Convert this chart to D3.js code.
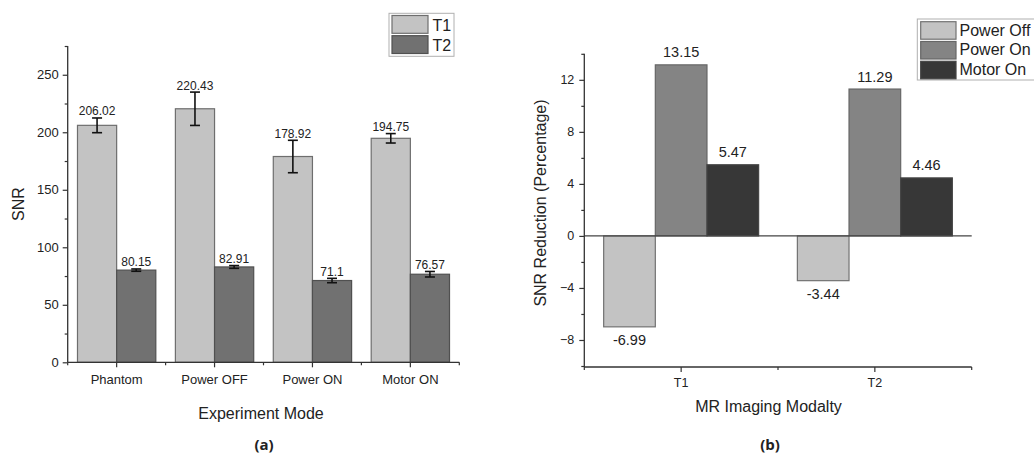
<!DOCTYPE html>
<html>
<head>
<meta charset="utf-8">
<script src="https://cdn.jsdelivr.net/npm/d3@7"></script>
<style>
  html, body { margin: 0; padding: 0; background: #fff; }
  svg { display: block; }
  text { font-family: "Liberation Sans", Arial, sans-serif; fill: #222; }
</style>
</head>
<body>
<svg id="chart" width="1034" height="454"></svg>
<script>
// ---------- Data: panel (a) ----------
const categoriesA = ["Phantom", "Power OFF", "Power ON", "Motor ON"];
const seriesA = ["T1", "T2"];
const t1Values = [206.02, 220.43, 178.92, 194.75];
const t2Values = [80.15, 82.91, 71.1, 76.57];
const t1Errors = [6.4, 14.5, 14.1, 4.1];
const t2Errors = [1.0, 1.2, 1.9, 2.4];
const yTicksA = [0, 50, 100, 150, 200, 250];
const yMinorTicksA = [25, 75, 125, 175, 225, 275];

// ---------- Data: panel (b) ----------
const categoriesB = ["T1", "T2"];
const seriesB = ["Power Off", "Power On", "Motor On"];
const powerOffValues = [-6.99, -3.44];
const powerOnValues = [13.15, 11.29];
const motorOnValues = [5.47, 4.46];
const yTicksB = [-8, -4, 0, 4, 8, 12];
const yMinorTicksB = [-10, -6, -2, 2, 6, 10, 14];

const svg = d3.select("#chart");
const axisColor = "#333";

// ================= Panel (a) =================
(function () {
  const x0 = d3.scaleBand().domain(categoriesA).range([67.7, 459.3]).paddingInner(0.2).paddingOuter(0.1);
  const x1 = d3.scaleBand().domain(seriesA).range([0, x0.bandwidth()]);
  const y = d3.scaleLinear().domain([0, 275]).range([362.3, 46]);
  const fills = { T1: "#c3c3c3", T2: "#717171" };
  const strokes = { T1: "#6e6e6e", T2: "#505050" };

  const rows = categoriesA.map((c, i) => [
    { cat: c, s: "T1", v: t1Values[i], e: t1Errors[i] },
    { cat: c, s: "T2", v: t2Values[i], e: t2Errors[i] }
  ]).flat();

  const g = svg.append("g");

  g.selectAll("rect.bar").data(rows).join("rect")
    .attr("class", "bar")
    .attr("x", d => x0(d.cat) + x1(d.s))
    .attr("y", d => y(d.v))
    .attr("width", x1.bandwidth())
    .attr("height", d => y(0) - y(d.v))
    .attr("fill", d => fills[d.s])
    .attr("stroke", d => strokes[d.s])
    .attr("stroke-width", 1.2);

  // error bars
  const eg = g.selectAll("g.err").data(rows).join("g").attr("class", "err")
    .attr("stroke", "#111").attr("stroke-width", 1.6);
  eg.append("line")
    .attr("x1", d => x0(d.cat) + x1(d.s) + x1.bandwidth() / 2)
    .attr("x2", d => x0(d.cat) + x1(d.s) + x1.bandwidth() / 2)
    .attr("y1", d => y(d.v + d.e)).attr("y2", d => y(d.v - d.e));
  eg.append("line")
    .attr("x1", d => x0(d.cat) + x1(d.s) + x1.bandwidth() / 2 - 5)
    .attr("x2", d => x0(d.cat) + x1(d.s) + x1.bandwidth() / 2 + 5)
    .attr("y1", d => y(d.v + d.e)).attr("y2", d => y(d.v + d.e));
  eg.append("line")
    .attr("x1", d => x0(d.cat) + x1(d.s) + x1.bandwidth() / 2 - 5)
    .attr("x2", d => x0(d.cat) + x1(d.s) + x1.bandwidth() / 2 + 5)
    .attr("y1", d => y(d.v - d.e)).attr("y2", d => y(d.v - d.e));

  // value labels
  g.selectAll("text.val").data(rows).join("text")
    .attr("class", "val")
    .attr("x", d => x0(d.cat) + x1(d.s) + x1.bandwidth() / 2)
    .attr("y", d => y(d.v + d.e) - 2.5)
    .attr("text-anchor", "middle")
    .style("font-size", "12px")
    .text(d => d.v);

  // y axis
  const yAxis = g.append("g").attr("transform", "translate(67.7,0)")
    .call(d3.axisLeft(y).tickValues(yTicksA).tickSize(5).tickPadding(4).tickFormat(d3.format("d")));
  yAxis.select(".domain").remove();
  yAxis.selectAll("line").attr("stroke", axisColor).attr("stroke-width", 1.2);
  yAxis.selectAll("text").style("font-size", "13px").attr("fill", "#222");
  const yMinor = g.append("g").attr("transform", "translate(67.7,0)")
    .call(d3.axisLeft(y).tickValues(yMinorTicksA).tickSize(3).tickFormat(""));
  yMinor.select(".domain").remove();
  yMinor.selectAll("line").attr("stroke", axisColor).attr("stroke-width", 1.2);
  g.append("line").attr("x1", 67.7).attr("x2", 67.7).attr("y1", y(275)).attr("y2", y(0))
    .attr("stroke", axisColor).attr("stroke-width", 1.3);

  // x axis
  const xAxis = g.append("g").attr("transform", `translate(0,${y(0)})`)
    .call(d3.axisBottom(x0).tickSize(5).tickPadding(7));
  xAxis.select(".domain").remove();
  xAxis.selectAll("line").attr("stroke", axisColor).attr("stroke-width", 1.2);
  xAxis.selectAll("text").style("font-size", "13px").attr("fill", "#222");
  const bounds = [67.7].concat(categoriesA.map(c => x0(c) - x0.step() * x0.paddingInner() / 2 + x0.step()));
  g.selectAll("line.xminA").data(bounds).join("line").attr("class", "xminA")
    .attr("x1", d => d).attr("x2", d => d).attr("y1", y(0)).attr("y2", y(0) + 3)
    .attr("stroke", axisColor).attr("stroke-width", 1.2);
  g.append("line").attr("x1", 67.7).attr("x2", 459.3).attr("y1", y(0)).attr("y2", y(0))
    .attr("stroke", axisColor).attr("stroke-width", 1.3);

  // titles
  g.append("text").attr("transform", `translate(24,${(y(0) + y(275)) / 2}) rotate(-90)`)
    .attr("text-anchor", "middle").style("font-size", "16px").text("SNR");
  g.append("text").attr("x", 261).attr("y", 418.5).attr("text-anchor", "middle")
    .style("font-size", "16px").text("Experiment Mode");
  g.append("text").attr("x", 264).attr("y", 450).attr("text-anchor", "middle")
    .style("font-size", "15px").style("font-weight", "bold").style("font-family", "'Open Sans', sans-serif")
    .text("(a)");

  // legend
  const lg = g.append("g");
  lg.append("rect").attr("x", 389).attr("y", 13.3).attr("width", 65).attr("height", 43)
    .attr("fill", "#fff").attr("stroke", "#b0b0b0").attr("stroke-width", 1);
  seriesA.forEach((s, i) => {
    lg.append("rect").attr("x", 392).attr("y", 15.5 + i * 20.2).attr("width", 36).attr("height", 17.8)
      .attr("fill", fills[s]).attr("stroke", strokes[s]).attr("stroke-width", 1.2);
    lg.append("text").attr("x", 432.5).attr("y", 31 + i * 20.2).style("font-size", "16px").text(s);
  });
})();

// ================= Panel (b) =================
(function () {
  const x0 = d3.scaleBand().domain(categoriesB).range([584.3, 971.7]).paddingInner(0.2).paddingOuter(0.1);
  const x1 = d3.scaleBand().domain(seriesB).range([0, x0.bandwidth()]);
  const y = d3.scaleLinear().domain([-10, 14]).range([366, 53.8]);
  const fills = { "Power Off": "#c3c3c3", "Power On": "#848484", "Motor On": "#373737" };
  const strokes = { "Power Off": "#727272", "Power On": "#666", "Motor On": "#444" };
  const valuesBySeries = { "Power Off": powerOffValues, "Power On": powerOnValues, "Motor On": motorOnValues };

  const rows = categoriesB.map((c, i) => seriesB.map(s => ({ cat: c, s, v: valuesBySeries[s][i] }))).flat();
  const g = svg.append("g");

  g.selectAll("rect.bar").data(rows).join("rect")
    .attr("class", "bar")
    .attr("x", d => x0(d.cat) + x1(d.s))
    .attr("y", d => y(Math.max(0, d.v)))
    .attr("width", x1.bandwidth())
    .attr("height", d => Math.abs(y(d.v) - y(0)))
    .attr("fill", d => fills[d.s])
    .attr("stroke", d => strokes[d.s])
    .attr("stroke-width", 1.2);

  g.selectAll("text.val").data(rows).join("text")
    .attr("class", "val")
    .attr("x", d => x0(d.cat) + x1(d.s) + x1.bandwidth() / 2)
    .attr("y", d => d.v >= 0 ? y(d.v) - 7.5 : y(d.v) + 18.5)
    .attr("text-anchor", "middle")
    .style("font-size", "14.5px")
    .text(d => d.v);

  // zero line
  g.append("line").attr("x1", 584.3).attr("x2", 971.7).attr("y1", y(0)).attr("y2", y(0))
    .attr("stroke", "#444").attr("stroke-width", 1.1);

  // y axis
  const yAxis = g.append("g").attr("transform", "translate(584.3,0)")
    .call(d3.axisLeft(y).tickValues(yTicksB).tickSize(5).tickPadding(5).tickFormat(d3.format("d")));
  yAxis.select(".domain").remove();
  yAxis.selectAll("line").attr("stroke", axisColor).attr("stroke-width", 1.2);
  yAxis.selectAll("text").style("font-size", "12.5px").attr("fill", "#222");
  const yMinor = g.append("g").attr("transform", "translate(584.3,0)")
    .call(d3.axisLeft(y).tickValues(yMinorTicksB).tickSize(3).tickFormat(""));
  yMinor.select(".domain").remove();
  yMinor.selectAll("line").attr("stroke", axisColor).attr("stroke-width", 1.2);
  g.append("line").attr("x1", 584.3).attr("x2", 584.3).attr("y1", y(14)).attr("y2", y(-10) + 1)
    .attr("stroke", axisColor).attr("stroke-width", 1.3);

  // x axis
  const xAxis = g.append("g").attr("transform", `translate(0,${y(-10) + 1})`)
    .call(d3.axisBottom(x0).tickSize(5).tickPadding(6));
  xAxis.select(".domain").remove();
  xAxis.selectAll("line").attr("stroke", axisColor).attr("stroke-width", 1.2);
  xAxis.selectAll("text").style("font-size", "12.5px").attr("fill", "#222");
  const bounds = [584.3].concat(categoriesB.map(c => x0(c) - x0.step() * x0.paddingInner() / 2 + x0.step()));
  g.selectAll("line.xminB").data(bounds).join("line").attr("class", "xminB")
    .attr("x1", d => d).attr("x2", d => d).attr("y1", y(-10) + 1).attr("y2", y(-10) + 4)
    .attr("stroke", axisColor).attr("stroke-width", 1.2);
  g.append("line").attr("x1", 584.3).attr("x2", 971.7).attr("y1", y(-10) + 1).attr("y2", y(-10) + 1)
    .attr("stroke", axisColor).attr("stroke-width", 1.3);

  // titles
  g.append("text").attr("transform", `translate(546,${203}) rotate(-90)`)
    .attr("text-anchor", "middle").style("font-size", "16px").text("SNR Reduction (Percentage)");
  g.append("text").attr("x", 768.5).attr("y", 412).attr("text-anchor", "middle")
    .style("font-size", "16px").text("MR Imaging Modalty");
  g.append("text").attr("x", 770).attr("y", 450).attr("text-anchor", "middle")
    .style("font-size", "15px").style("font-weight", "bold").style("font-family", "'Open Sans', sans-serif")
    .text("(b)");

  // legend
  const lg = g.append("g");
  lg.append("rect").attr("x", 917.3).attr("y", 19).attr("width", 130).attr("height", 61)
    .attr("fill", "#fff").attr("stroke", "#b0b0b0").attr("stroke-width", 1);
  seriesB.forEach((s, i) => {
    lg.append("rect").attr("x", 920.7).attr("y", 21.7 + i * 19.8).attr("width", 35.3).attr("height", 17.5)
      .attr("fill", fills[s]).attr("stroke", strokes[s]).attr("stroke-width", 1.2);
    lg.append("text").attr("x", 959.5).attr("y", 35.5 + i * 19.8).style("font-size", "16px").text(s);
  });
})();
</script>
</body>
</html>
